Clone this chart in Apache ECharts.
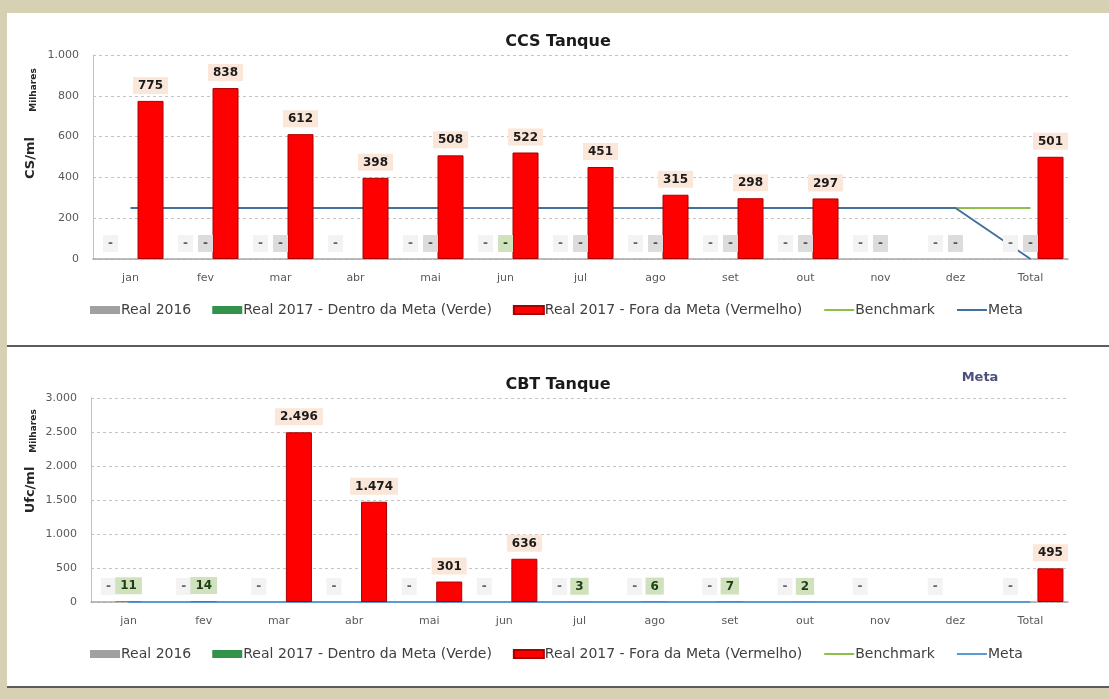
<!DOCTYPE html>
<html lang="pt">

<head>
    <meta charset="UTF-8">
    <title>CCS / CBT Tanque</title>
    <script src="https://cdn.jsdelivr.net/npm/echarts@6/dist/echarts.min.js"></script>
    <style>
        body {
            margin: 0;
            background: #d5d1b2;
            width: 1109px;
            height: 699px;
            overflow: hidden;
            position: relative;
        }

        .panel {
            position: absolute;
            left: 7px;
            width: 1102px;
            background: #fff;
        }

        #ccs {
            top: 13px;
            height: 332px;
        }

        #cbt {
            top: 345px;
            height: 339px;
            border-top: 2px solid #5c5c5c;
            border-bottom: 2px solid #5c5c5c;
        }
    </style>
</head>

<body>
    <div id="ccs" class="panel"></div>
    <div id="cbt" class="panel"></div>

    <script type="text/javascript">
        // categorias
        var months = ['jan', 'fev', 'mar', 'abr', 'mai', 'jun', 'jul', 'ago', 'set', 'out', 'nov', 'dez', 'Total'];

        // CCS Tanque (milhares)
        var ccsReal2016 = [0, 0, 0, 0, 0, 0, 0, 0, 0, 0, 0, 0, 0];
        var ccsDentro = [null, 0, 0, null, 0, 0, 0, 0, 0, 0, 0, 0, 0];
        var ccsFora = [775, 838, 612, 398, 508, 522, 451, 315, 298, 297, null, null, 501];
        var ccsBenchmark = [null, null, null, null, null, null, null, null, null, null, null, 250, 250];
        var ccsMeta = [250, 250, 250, 250, 250, 250, 250, 250, 250, 250, 250, 250, 0];
        var ccsTicks = [0, 200, 400, 600, 800, 1000];
        var ccsGreenMonths = ['jun'];

        // CBT Tanque (milhares)
        var cbtReal2016 = [0, 0, 0, 0, 0, 0, 0, 0, 0, 0, 0, 0, 0];
        var cbtDentro = [11, 14, null, null, null, null, 3, 6, 7, 2, null, null, null];
        var cbtFora = [null, null, 2496, 1474, 301, 636, null, null, null, null, null, null, 495];
        var cbtBenchmark = [null, null, null, null, null, null, null, null, null, null, null, null, null];
        var cbtMeta = [0, 0, 0, 0, 0, 0, 0, 0, 0, 0, 0, 0, 0];
        var cbtTicks = [0, 500, 1000, 1500, 2000, 2500, 3000];
        var cbtGreenMonths = ['jan', 'fev', 'jul', 'ago', 'set', 'out'];

        var FONT = '"DejaVu Sans", sans-serif';

        // 1234 -> 1.234
        function fmt(v) {
            return String(v).replace(/\B(?=(\d{3})+(?!\d))/g, '.');
        }

        function dash(p) {
            return p.value === 0 ? '-' : fmt(p.value);
        }

        // rótulos da série verde: caixa cinza ou verde
        function dentroData(values, greenMonths) {
            return values.map(function (v, i) {
                var green = greenMonths.indexOf(months[i]) >= 0;
                return {
                    value: v,
                    label: {
                        backgroundColor: green ? '#cfe2bd' : '#dcdcdc',
                        color: green ? '#1f3d14' : '#555'
                    }
                };
            });
        }

        function buildOption(cfg) {
            var barLabel = {
                show: true,
                position: 'top',
                distance: 7,
                fontFamily: FONT,
                fontSize: 12,
                fontWeight: 'bold',
                padding: [3, 5, 2, 5]
            };
            return {
                animation: false,
                textStyle: { fontFamily: FONT },
                title: {
                    text: cfg.title,
                    left: 'center',
                    top: cfg.titleTop,
                    textStyle: { fontFamily: FONT, fontSize: 16, fontWeight: 'bold', color: '#1a1a1a' }
                },
                legend: {
                    left: 78,
                    top: cfg.legendTop,
                    itemWidth: 30,
                    itemHeight: 8,
                    itemGap: 21,
                    textStyle: { fontFamily: FONT, fontSize: 14, color: '#404040', padding: [0, 0, 0, -4] },
                    data: [
                        { name: 'Real 2016', icon: 'rect' },
                        { name: 'Real 2017 - Dentro da Meta (Verde)', icon: 'rect' },
                        { name: 'Real 2017 - Fora da Meta (Vermelho)', icon: 'rect' },
                        // só a linha, sem o círculo
                        { name: 'Benchmark', itemStyle: { opacity: 0 } },
                        { name: 'Meta', itemStyle: { opacity: 0 } }
                    ]
                },
                grid: { left: cfg.left, right: 41, top: cfg.top, height: 204 },
                xAxis: {
                    type: 'category',
                    data: months,
                    axisLine: { lineStyle: { color: '#a6a6a6', width: 1.5 } },
                    axisTick: { length: 5, lineStyle: { color: '#a6a6a6' } },
                    axisLabel: { color: '#595959', fontSize: 11, margin: 14, fontFamily: FONT }
                },
                yAxis: {
                    type: 'value',
                    min: cfg.ticks[0],
                    max: cfg.ticks[cfg.ticks.length - 1],
                    interval: cfg.ticks[1] - cfg.ticks[0],
                    axisLine: { show: true, lineStyle: { color: '#c0c0c0' } },
                    axisTick: { show: false },
                    splitLine: { lineStyle: { color: '#c4c4c4', type: [3, 3] } },
                    axisLabel: { color: '#595959', fontSize: 11, margin: 14, fontFamily: FONT, formatter: fmt }
                },
                graphic: cfg.graphic,
                series: [{
                    name: 'Real 2016',
                    type: 'bar',
                    z: 3,
                    barWidth: 26,
                    barGap: '-23%',
                    itemStyle: { color: '#a0a0a0' },
                    label: Object.assign({}, barLabel, {
                        formatter: dash, color: '#666', backgroundColor: '#f3f3f3'
                    }),
                    data: cfg.real2016
                }, {
                    name: 'Real 2017 - Dentro da Meta (Verde)',
                    type: 'bar',
                    z: 3,
                    barWidth: 26,
                    barGap: '-23%',
                    itemStyle: { color: '#33924a' },
                    label: Object.assign({}, barLabel, { formatter: dash }),
                    data: dentroData(cfg.dentro, cfg.greenMonths)
                }, {
                    name: 'Real 2017 - Fora da Meta (Vermelho)',
                    type: 'bar',
                    z: 3,
                    barWidth: 26,
                    barGap: '-23%',
                    itemStyle: { color: '#ff0000', borderColor: '#a80000', borderWidth: 1 },
                    label: Object.assign({}, barLabel, {
                        formatter: dash, color: '#1a1a1a', backgroundColor: '#fbe7da'
                    }),
                    data: cfg.fora
                }, {
                    name: 'Benchmark',
                    type: 'line',
                    z: 1,
                    symbol: 'none',
                    lineStyle: { color: '#8fbf4a', width: 2 },
                    itemStyle: { color: '#8fbf4a' },
                    data: cfg.benchmark
                }, {
                    name: 'Meta',
                    type: 'line',
                    z: 1,
                    symbol: 'none',
                    lineStyle: { color: cfg.metaColor, width: 2 },
                    itemStyle: { color: cfg.metaColor },
                    data: cfg.meta
                }]
            };
        }

        // nome do eixo y + "Milhares" (unidade de exibição)
        function axisNames(unit, unitY, milY) {
            return [{
                type: 'text', x: 24, y: unitY, rotation: Math.PI / 2,
                style: { text: unit, fontFamily: FONT, fontSize: 13, fontWeight: 'bold', fill: '#262626', align: 'center', verticalAlign: 'middle' }
            }, {
                type: 'text', x: 27, y: milY, rotation: Math.PI / 2,
                style: { text: 'Milhares', fontFamily: FONT, fontSize: 9, fontWeight: 'bold', fill: '#262626', align: 'center', verticalAlign: 'middle' }
            }];
        }

        // CCS Tanque
        var myChart = echarts.init(document.getElementById('ccs'));
        var option = buildOption({
            title: 'CCS Tanque',
            titleTop: 16,
            legendTop: 285,
            left: 86,
            top: 42,
            ticks: ccsTicks,
            real2016: ccsReal2016,
            dentro: ccsDentro,
            greenMonths: ccsGreenMonths,
            fora: ccsFora,
            benchmark: ccsBenchmark,
            meta: ccsMeta,
            metaColor: '#41719c',
            graphic: axisNames('CS/ml', 145, 77)
        });
        myChart.setOption(option);

        // CBT Tanque
        var myChart2 = echarts.init(document.getElementById('cbt'));
        var option2 = buildOption({
            title: 'CBT Tanque',
            titleTop: 25,
            legendTop: 295,
            left: 84,
            top: 51,
            ticks: cbtTicks,
            real2016: cbtReal2016,
            dentro: cbtDentro,
            greenMonths: cbtGreenMonths,
            fora: cbtFora,
            benchmark: cbtBenchmark,
            meta: cbtMeta,
            metaColor: '#5b9bd5',
            graphic: axisNames('Ufc/ml', 143, 84).concat([{
                type: 'text', x: 973, y: 31,
                style: { text: 'Meta', fontFamily: FONT, fontSize: 13, fontWeight: 'bold', fill: '#4d4f7c', align: 'center', verticalAlign: 'middle' }
            }])
        });
        myChart2.setOption(option2);
    </script>
</body>

</html>
